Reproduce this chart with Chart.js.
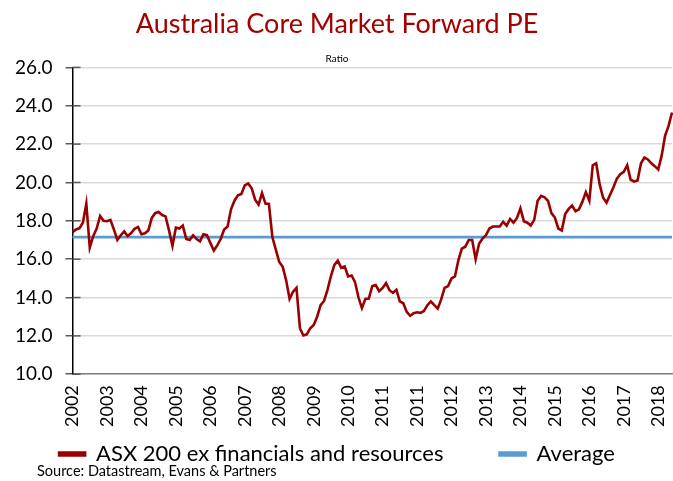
<!DOCTYPE html>
<html>
<head>
<meta charset="utf-8">
<script src="https://cdn.jsdelivr.net/npm/chart.js@4.4.1/dist/chart.umd.min.js"></script>
<style>
  html, body { margin: 0; padding: 0; background: #fff; }
  #wrap { position: relative; width: 673px; height: 481px; }
  #source { position: absolute; left: 37px; top: 462px; font: 14.5px Lato, sans-serif; color: #000; }
</style>
</head>
<body>
<div id="wrap">
  <canvas id="myChart" width="673" height="481"></canvas>
  <div id="source">Source: Datastream, Evans &amp; Partners</div>
</div>
<script>
// tick labels shown on the x axis (one every 10 points)
const yearTicks = ["2002", "2003", "2004", "2005", "2006", "2007", "2008", "2009", "2010",
    "2011", "2011", "2012", "2013", "2014", "2015", "2016", "2017", "2018"];

// ASX 200 ex financials and resources, forward PE
const asxPE = [
    17.4, 17.55, 17.62, 17.9, 18.9, 16.6, 17.2, 17.6, 18.25, 18.0,
    17.98, 18.05, 17.55, 17.0, 17.25, 17.45, 17.2, 17.36, 17.58, 17.68,
    17.3, 17.35, 17.5, 18.15, 18.4, 18.46, 18.3, 18.23, 17.5, 16.7,
    17.65, 17.6, 17.75, 17.05, 17.0, 17.25, 17.05, 16.93, 17.3, 17.25,
    16.85, 16.45, 16.72, 17.05, 17.55, 17.7, 18.6, 19.05, 19.33, 19.4,
    19.85, 19.95, 19.7, 19.1, 18.85, 19.45, 18.9, 18.88, 17.15, 16.5,
    15.85, 15.6, 14.9, 13.93, 14.3, 14.5, 12.4, 12.02, 12.08, 12.4,
    12.57, 13.0, 13.6, 13.82, 14.4, 15.12, 15.7, 15.92, 15.55, 15.62,
    15.1, 15.15, 14.8, 14.0, 13.45, 13.93, 13.95, 14.6, 14.65, 14.33,
    14.5, 14.75, 14.38, 14.25, 14.4, 13.8, 13.7, 13.25, 13.05, 13.18,
    13.23, 13.2, 13.3, 13.6, 13.8, 13.6, 13.42, 13.9, 14.5, 14.6,
    15.0, 15.1, 15.95, 16.55, 16.65, 17.0, 17.0, 16.0, 16.8, 17.08,
    17.25, 17.6, 17.7, 17.7, 17.7, 17.95, 17.75, 18.1, 17.9, 18.15,
    18.65, 17.98, 17.9, 17.75, 18.05, 19.05, 19.3, 19.22, 19.05, 18.4,
    18.17, 17.6, 17.5, 18.35, 18.62, 18.8, 18.5, 18.6, 19.0, 19.5,
    19.05, 20.9, 21.0, 19.9, 19.2, 18.95, 19.35, 19.75, 20.2, 20.43,
    20.55, 20.9, 20.14, 20.05, 20.1, 21.0, 21.3, 21.2, 21.0, 20.85,
    20.68, 21.4, 22.45, 22.95, 23.65
];

const averagePE = 17.15;

const labels = [];
const avgLine = [];
asxPE.forEach((v, i) => {
    labels.push(i % 10 === 0 ? yearTicks[i / 10] : "");
    avgLine.push(averagePE);
});

// short tick marks on the inner side of the y axis, like the original
const innerTicks = {
    id: 'innerTicks',
    afterDatasetsDraw(chart) {
        const y = chart.scales.y;
        const c = chart.ctx;
        c.save();
        c.strokeStyle = '#595959';
        c.lineWidth = 1.5;
        y.ticks.forEach(t => {
            const py = y.getPixelForValue(t.value);
            c.beginPath();
            c.moveTo(y.right, py);
            c.lineTo(y.right + 8, py);
            c.stroke();
        });
        c.restore();
    }
};

const ctx = document.getElementById('myChart').getContext('2d');

const chart = new Chart(ctx, {
    type: 'line',
    data: {
        labels: labels,
        datasets: [{
            // trailing spaces give the gap between the two legend items
            label: "ASX 200 ex financials and resources\u00a0\u00a0\u00a0\u00a0\u00a0\u00a0\u00a0\u00a0",
            data: asxPE,
            borderColor: '#990000',
            backgroundColor: '#990000',
            borderWidth: 2.6,
            pointRadius: 0,
            tension: 0
        }, {
            label: "Average",
            data: avgLine,
            borderColor: '#5b9bd5',
            backgroundColor: '#5b9bd5',
            borderWidth: 2.6,
            pointRadius: 0
        }]
    },
    options: {
        responsive: false,
        animation: false,
        layout: { padding: { left: 2, right: 1, bottom: 6 } },
        plugins: {
            tooltip: { enabled: false },
            title: {
                display: true,
                text: "Australia Core Market Forward PE",
                color: '#a50000',
                font: { family: 'Lato', size: 27, weight: 'normal' },
                padding: { top: 8, bottom: 7 }
            },
            subtitle: {
                display: true,
                text: "Ratio",
                color: '#000',
                font: { family: 'Lato', size: 10 },
                padding: { top: 5, bottom: 3 }
            },
            legend: {
                position: 'bottom',
                labels: {
                    color: '#000',
                    font: { family: 'Lato', size: 22 },
                    boxWidth: 26,
                    boxHeight: 3,
                    padding: 11
                }
            }
        },
        scales: {
            x: {
                grid: { display: false },
                border: { display: true, color: '#808080', width: 1.5 },
                ticks: {
                    autoSkip: false,
                    maxRotation: 90,
                    minRotation: 90,
                    padding: 3,
                    color: '#000',
                    font: { family: 'Lato', size: 18 }
                },
                afterFit: (scale) => {
                    scale.paddingRight = 0;
                    scale.height += 2;
                }
            },
            y: {
                min: 10,
                max: 26,
                grid: { color: '#d9d9d9', lineWidth: 1.5, tickLength: 7, tickColor: '#595959' },
                border: { display: true, color: '#000', width: 1.5 },
                ticks: {
                    stepSize: 2,
                    padding: 13,
                    color: '#000',
                    font: { family: 'Lato', size: 19 },
                    callback: (v) => v.toFixed(1)
                }
            }
        }
    },
    plugins: [innerTicks]
});
</script>
</body>
</html>
